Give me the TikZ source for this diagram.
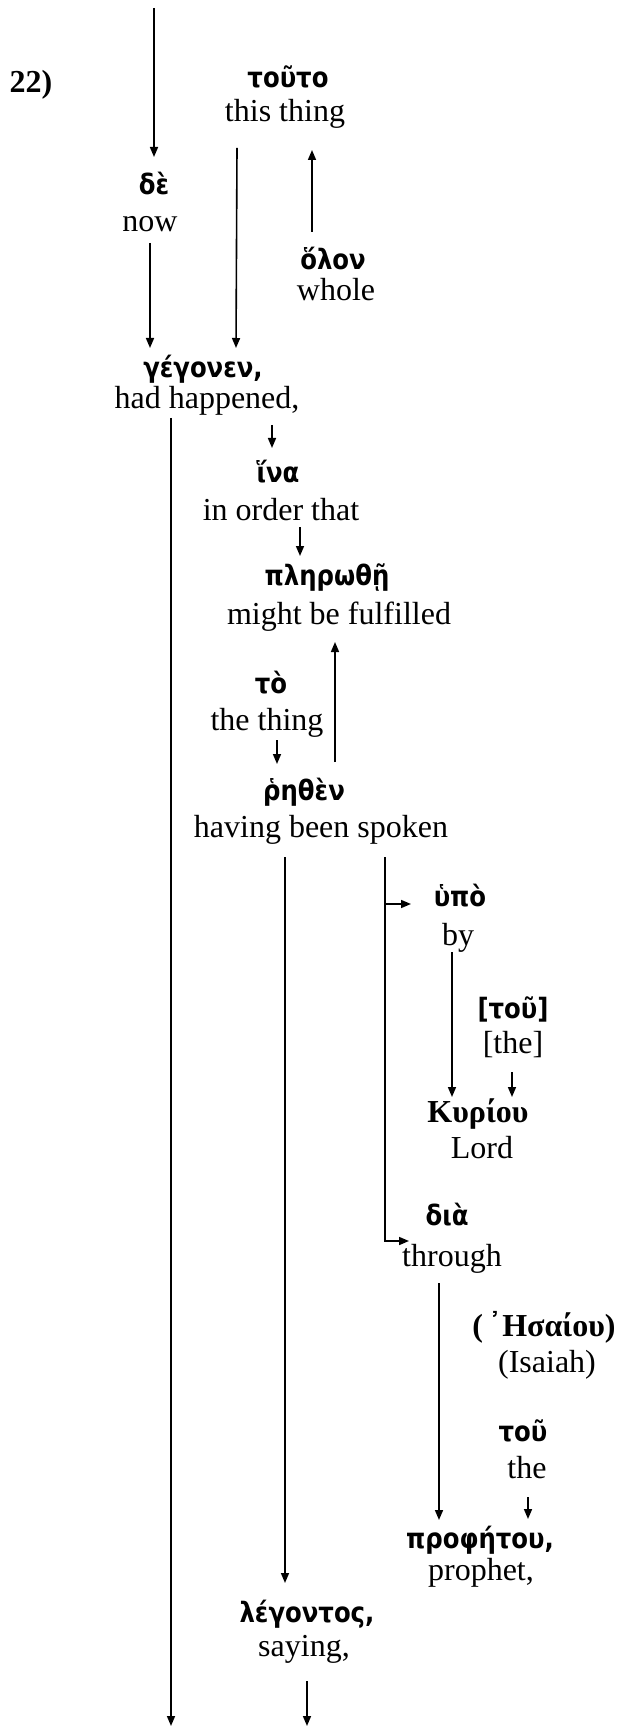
\documentclass[tikz,border=0pt]{standalone}
\usepackage{fontspec}
\setmainfont{Liberation Serif}
\newfontfamily\grk[FakeStretch=0.87]{DejaVu Sans}
\usetikzlibrary{arrows.meta,calc}
\begin{document}
\begin{tikzpicture}[x=0.5pt,y=-0.5pt,
  en/.style={anchor=base,inner sep=0pt,font=\fontsize{16}{19}\selectfont},
  gr/.style={anchor=base,inner sep=0pt,font=\grk\bfseries\fontsize{14}{16}\selectfont},
  gs/.style={anchor=base,inner sep=0pt,font=\bfseries\fontsize{16}{19}\selectfont},
  arr/.style={-{Triangle[length=5pt,width=4pt]},line width=0.8pt},
  ln/.style={line width=0.8pt}]
\useasboundingbox (0,0) rectangle (623,1727);
% nodes
\node[gs] (num) at (31,93) {22)};
\node[gr] (touto) at (288,88) {τοῦτο};
\node[en] (this) at (285,122) {this thing};
\node[gr] (de) at (154,195) {δὲ};
\node[en] (now) at (150,232) {now};
\node[gr] (olon) at (333,270) {ὅλον};
\node[en] (whole) at (336,301) {whole};
\node[gr] (gegonen) at (203,378) {γέγονεν,};
\node[en] (had) at (207,409) {had happened,};
\node[gr] (ina) at (278,482) {ἵνα};
\node[en] (order) at (281,520) {in order that};
\node[gr] (pler) at (327,585) {πληρωθῇ};
\node[en] (might) at (339,624) {might be fulfilled};
\node[gr] (to) at (271,693) {τὸ};
\node[en] (thing) at (267,730) {the thing};
\node[gr] (rhethen) at (304,800) {ῥηθὲν};
\node[en] (having) at (321,837) {having been spoken};
\node[gr] (upo) at (460,906) {ὑπὸ};
\node[en] (by) at (458,945) {by};
\node[gr] (btou) at (513,1018) {[τοῦ]};
\node[en] (bthe) at (513,1053) {[the]};
\node[gs] (kyriou) at (478,1122) {Κυρίου};
\node[en] (lord) at (482,1158) {Lord};
\node[gr] (dia) at (447,1225) {διὰ};
\node[en] (through) at (452,1266) {through};
\node[gs] (esaiou) at (544,1336) {(\,{\grk ᾿}Ησαίου)};
\node[en] (isaiah) at (547,1372) {(Isaiah)};
\node[gr] (tou) at (523,1441) {τοῦ};
\node[en] (the) at (527,1478) {the};
\node[gr] (proph) at (480,1548) {προφήτου,};
\node[en] (prophet) at (481,1580) {prophet,};
\node[gr] (legontos) at (307,1622) {λέγοντος,};
\node[en] (saying) at (304,1656) {saying,};
% free ends
\coordinate (top) at (154,8);
\coordinate (bot1) at (171,1726);
\coordinate (bot2) at (307,1726);
% connectors
\draw[arr] (top) -- ($(de.base)+(0,-38)$);
\draw[arr] ($(now.base)+(0,11)$) -- ($(gegonen.base)+(-53,-30)$);
\draw[arr] ($(this.base)+(-48,26)$) -- ($(gegonen.base)+(33,-30)$);
\draw[arr] ($(olon.base)+(-21,-38)$) -- ($(this.base)+(27,28)$);
\draw[arr] ($(had.base)+(-36,9)$) -- (bot1);
\draw[arr] ($(had.base)+(65,16)$) -- ($(ina.base)+(-6,-34)$);
\draw[arr] ($(order.base)+(19,7)$) -- ($(pler.base)+(-27,-29)$);
\draw[arr] ($(rhethen.base)+(31,-38)$) -- ($(might.base)+(-4,18)$);
\draw[arr] ($(thing.base)+(10,10)$) -- ($(rhethen.base)+(-27,-36)$);
\draw[arr] ($(having.base)+(-36,20)$) -- ($(legontos.base)+(-22,-39)$);
\draw[arr] ($(having.base)+(64,20)$) |- ($(dia.base)+(-38,16)$);
\draw[arr] ($(upo.base)+(-75,-2)$) -- ($(upo.base)+(-49,-2)$);
\draw[arr] ($(by.base)+(-6,7)$) -- ($(kyriou.base)+(-26,-25)$);
\draw[arr] ($(bthe.base)+(-1,19)$) -- ($(kyriou.base)+(34,-25)$);
\draw[arr] ($(through.base)+(-13,17)$) -- ($(proph.base)+(-41,-28)$);
\draw[arr] ($(the.base)+(1,19)$) -- ($(proph.base)+(48,-29)$);
\draw[arr] ($(saying.base)+(3,25)$) -- (bot2);
\end{tikzpicture}
\end{document}
